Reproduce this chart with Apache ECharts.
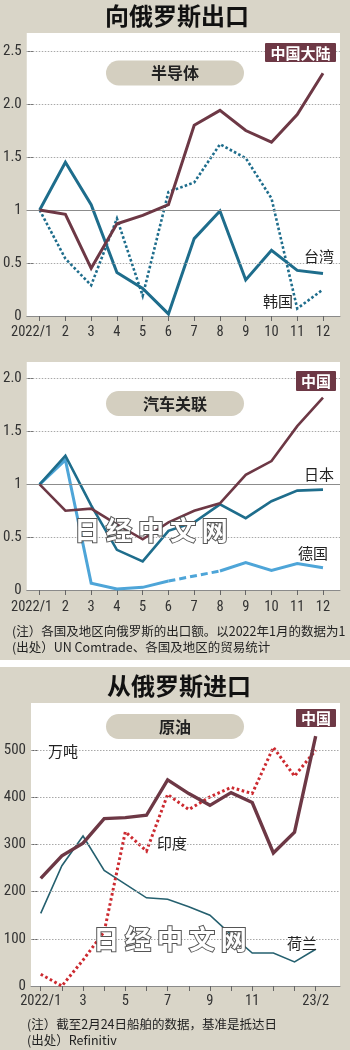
<!DOCTYPE html>
<html><head><meta charset="utf-8">
<script src="https://cdn.jsdelivr.net/npm/echarts@6/dist/echarts.min.js"></script>
<style>html,body{margin:0;padding:0;background:#d9d5c8;}#c{width:350px;height:1050px;}</style>
</head><body><div id="c"></div>
<script>
// ---------- data ----------
const semiX = [1,2,3,4,5,6,7,8,9,10,11,12];
const semiXLabels = ['2022/1','2','3','4','5','6','7','8','9','10','11','12'];
const semiYTicks = [0,0.5,1,1.5,2,2.5];
const semiYLabels = ['0','0.5','1','1.5','2.0','2.5'];
const semiChina  = [1.00,0.96,0.45,0.87,0.95,1.05,1.80,1.94,1.75,1.64,1.90,2.29];
const semiTaiwan = [1.00,1.45,1.05,0.41,0.26,0.02,0.73,0.99,0.34,0.62,0.43,0.40];
const semiKorea  = [1.00,0.54,0.29,0.92,0.19,1.17,1.26,1.62,1.49,1.11,0.07,0.25];

const autoX = [1,2,3,4,5,6,7,8,9,10,11,12];
const autoXLabels = ['2022/1','2','3','4','5','6','7','8','9','10','11','12'];
const autoYTicks = [0,0.5,1,1.5,2];
const autoYLabels = ['0','0.5','1','1.5','2.0'];
const autoChina   = [1.00,0.75,0.77,0.62,0.48,0.64,0.75,0.82,1.09,1.22,1.55,1.82];
const autoJapan   = [1.00,1.27,0.80,0.38,0.27,0.56,0.64,0.81,0.68,0.84,0.94,0.95];
const autoGermany = [1.00,1.23,0.065,0.01,0.025,0.085,null,0.18,0.26,0.185,0.25,0.21];

const oilX = [1,2,3,4,5,6,7,8,9,10,11,12,13,14];
const oilXTicks = [1,3,5,7,9,11,14];
const oilXLabels = ['2022/1','3','5','7','9','11','23/2'];
const oilYTicks = [0,100,200,300,400,500];
const oilYLabels = ['0','100','200','300','400','500'];
const oilChina       = [228,276,303,355,357,362,437,408,383,410,389,282,326,530];
const oilIndia       = [25,0,55,115,327,286,406,374,401,421,408,506,445,500];
const oilNetherlands = [154,255,318,245,216,187,184,168,150,109,70,70,51,78];

// ---------- styles ----------
const MAROON = '#6d3845', TEAL = '#1e6d8c', LBLUE = '#4ea5d8', DTEAL = '#25606f', RED = '#cc2a30';
const NARROW = "'Liberation Sans Narrow','Roboto Condensed','Liberation Sans',sans-serif";
const CJK = "'Noto Sans CJK SC',sans-serif";
const pair = (xs, ys) => xs.map((x, i) => [x, ys[i]]);

function xAxis(gi, min, max, ticks, labels, shiftFirst, margin) {
  return {
    type: 'value', gridIndex: gi, min, max,
    axisLine: { show: true, lineStyle: { color: '#8a8a8a', width: 1 } },
    axisTick: { show: true, length: 5, customValues: ticks, lineStyle: { color: '#666' } },
    axisLabel: { customValues: ticks, margin: margin, color: '#333', fontSize: 14.5, fontFamily: NARROW,
      formatter: v => {
        const i = ticks.indexOf(v);
        return (shiftFirst && i === 0) ? '{f|' + labels[i] + '}' : labels[i];
      },
      rich: { f: { fontSize: 14.5, fontFamily: NARROW, color: '#333', padding: [0, 16, 0, 0] } } },
    splitLine: { show: false }
  };
}
function yAxis(gi, max, ticks, labels) {
  return {
    type: 'value', gridIndex: gi, min: 0, max,
    axisLine: { show: false },
    axisTick: { show: true, inside: true, length: 7, customValues: ticks.filter(t => t > 0), lineStyle: { color: '#666' } },
    axisLabel: { customValues: ticks, margin: 5, color: '#333', fontSize: 15, fontFamily: NARROW,
      formatter: v => labels[ticks.indexOf(v)] },
    splitLine: { show: false }
  };
}
function gridLines(gi, ticks, solidOne) {
  return {
    type: 'line', xAxisIndex: gi, yAxisIndex: gi, data: [], z: 1, silent: true,
    markLine: {
      silent: true, symbol: 'none', label: { show: false }, animation: false,
      data: ticks.filter(t => t > 0).map(t => ({
        yAxis: t,
        lineStyle: (solidOne && t === 1) ? { color: '#8c8c8c', width: 1.2, type: 'solid' }
                                        : { color: '#a8a8a8', width: 1, type: [1.5, 1.5] }
      }))
    }
  };
}
function line(gi, data, color, width, type, z, extra) {
  return Object.assign({
    type: 'line', xAxisIndex: gi, yAxisIndex: gi, data, showSymbol: false, symbol: 'none',
    z: z || 3, animation: false,
    lineStyle: { color, width, type: type || 'solid', cap: 'butt', join: 'miter' }
  }, extra || {});
}

// germany dashed gap segment (months 6 and 8)
const germanyDash = autoGermany.map((v, i) => (i >= 5 && i <= 7) ? v : null);

function txt(x, y, text, size, opts) {
  return { type: 'text', x, y, z: 50, style: Object.assign({
    text, fill: '#222', font: (opts && opts.weight ? opts.weight + ' ' : '') + size + 'px ' + CJK,
    align: 'center', verticalAlign: 'middle' }, (opts && opts.style) || {}) };
}
function pill(cy, text) {
  return [
    { type: 'rect', z: 40, shape: { x: 106, y: cy - 12.5, width: 138, height: 25, r: 12.5 }, style: { fill: '#d4cfc0' } },
    txt(175, cy, text, 16, { weight: 'bold', style: { fill: '#222' } })
  ];
}
function tag(x, y, w, h, text) {
  return [
    { type: 'rect', z: 40, shape: { x, y, width: w, height: h, r: 1 }, style: { fill: MAROON } },
    txt(x + w / 2, y + h / 2 + 0.5, text, 15, { weight: 'bold', style: { fill: '#fff' } })
  ];
}
function watermark(cx, cy) {
  return { type: 'text', x: cx, y: cy, z: 45, style: {
    text: '日 经 中 文 网', fill: '#ffffff', stroke: '#555555', lineWidth: 2,
    font: 'bold 26px ' + CJK, align: 'center', verticalAlign: 'middle' } };
}

const chart = echarts.init(document.getElementById('c'), null, { width: 350, height: 1050 });
chart.setOption({
  backgroundColor: '#d9d5c8',
  animation: false,
  grid: [
    { left: 26, top: 33, width: 314, height: 283, show: true, backgroundColor: '#ffffff', borderWidth: 0 },
    { left: 26, top: 362, width: 314, height: 228, show: true, backgroundColor: '#ffffff', borderWidth: 0 },
    { left: 31, top: 703, width: 309, height: 283, show: true, backgroundColor: '#ffffff', borderWidth: 0 }
  ],
  xAxis: [
    xAxis(0, 0.5, 12.66, semiX, semiXLabels, true, 9),
    xAxis(1, 0.5, 12.66, autoX, autoXLabels, true, 10),
    Object.assign(xAxis(2, 0.54, 15.15, oilXTicks, oilXLabels, false, 8), {
      axisTick: { show: true, length: 5, customValues: oilX, lineStyle: { color: '#666' } } })
  ],
  yAxis: [
    yAxis(0, 2.67, semiYTicks, semiYLabels),
    yAxis(1, 2.157, autoYTicks, autoYLabels),
    yAxis(2, 600, oilYTicks, oilYLabels)
  ],
  series: [
    gridLines(0, semiYTicks, true),
    gridLines(1, autoYTicks, true),
    gridLines(2, oilYTicks, false),
    line(0, pair(semiX, semiKorea), TEAL, 2.6, [2.6, 2.2], 3),
    line(0, pair(semiX, semiTaiwan), TEAL, 3, 'solid', 4),
    line(0, pair(semiX, semiChina), MAROON, 3, 'solid', 5),
    line(1, pair(autoX, autoGermany), LBLUE, 3, 'solid', 3, { connectNulls: false }),
    line(1, pair(autoX, germanyDash), LBLUE, 3, [7, 4], 3, { connectNulls: true }),
    line(1, pair(autoX, autoJapan), TEAL, 2.6, 'solid', 4),
    line(1, pair(autoX, autoChina), MAROON, 2.6, 'solid', 5),
    line(2, pair(oilX, oilNetherlands), DTEAL, 1.6, 'solid', 3),
    line(2, pair(oilX, oilIndia), RED, 3, [2.6, 2.6], 4),
    line(2, pair(oilX, oilChina), MAROON, 3.4, 'solid', 5)
  ],
  graphic: [
    { type: 'rect', z: 0, shape: { x: 0, y: 660, width: 350, height: 7 }, style: { fill: '#ffffff' } },
    txt(177, 16, '向俄罗斯出口', 24, { weight: 'bold', style: { fill: '#111' } }),
    txt(179, 686, '从俄罗斯进口', 24, { weight: 'bold', style: { fill: '#111' } }),
    ...pill(73, '半导体'),
    ...pill(403.5, '汽车关联'),
    ...pill(726.5, '原油'),
    ...tag(265, 43, 71, 19, '中国大陆'),
    ...tag(296, 371, 40, 20, '中国'),
    ...tag(296, 709, 40, 18, '中国'),
    txt(319, 256, '台湾', 15),
    txt(278, 301, '韩国', 15),
    txt(319, 474, '日本', 15),
    txt(313, 553, '德国', 15),
    txt(172, 843, '印度', 15),
    txt(302, 943, '荷兰', 15),
    txt(63, 751, '万吨', 15),
    watermark(151, 530),
    watermark(170, 939),
    txt(12, 631, '(注）各国及地区向俄罗斯的出口额。以2022年1月的数据为1', 12.5, { style: { align: 'left' } }),
    txt(12, 647, '(出处）UN Comtrade、各国及地区的贸易统计', 12.5, { style: { align: 'left' } }),
    txt(27, 1024, '(注）截至2月24日船舶的数据，基准是抵达日', 12.5, { style: { align: 'left' } }),
    txt(27, 1040, '(出处）Refinitiv', 12.5, { style: { align: 'left' } })
  ]
});
</script></body></html>
